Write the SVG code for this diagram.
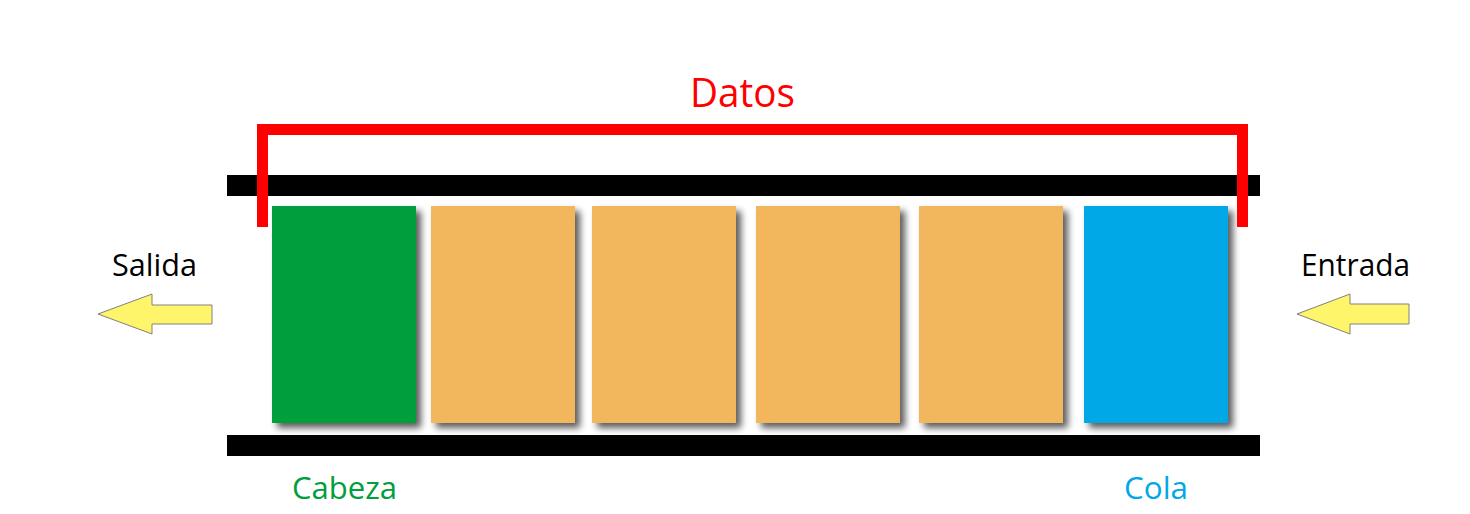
<svg xmlns="http://www.w3.org/2000/svg" width="1470" height="514" viewBox="0 0 1470 514">
<defs>
<filter id="sh" x="-10%" y="-10%" width="130%" height="130%">
<feGaussianBlur in="SourceAlpha" stdDeviation="3.5"/>
<feOffset dx="5" dy="5" result="b"/>
<feComponentTransfer><feFuncA type="linear" slope="0.65"/></feComponentTransfer>
<feMerge><feMergeNode/><feMergeNode in="SourceGraphic"/></feMerge>
</filter>
</defs>
<style>
text{font-family:"Open Sans","Noto Sans","Liberation Sans",sans-serif;text-anchor:middle}
.lbl{font-size:31px;fill:#000}
.bar{fill:#000}
.box{filter:url(#sh)}
.arrow{fill:#FFF56A;stroke:#808080;stroke-width:1}
</style>
<rect width="1470" height="514" fill="#fff"/>
<g id="rails">
<rect class="bar" x="227" y="175" width="1033" height="21"/>
<rect class="bar" x="227" y="435" width="1033" height="21"/>
</g>
<g id="node-cabeza"><rect class="box" x="272" y="206" width="144" height="217" fill="#009E3D"/></g>
<g id="node-2"><rect class="box" x="431" y="206" width="144" height="217" fill="#F2B75B"/></g>
<g id="node-3"><rect class="box" x="592" y="206" width="144" height="217" fill="#F2B75B"/></g>
<g id="node-4"><rect class="box" x="756" y="206" width="144" height="217" fill="#F2B75B"/></g>
<g id="node-5"><rect class="box" x="919" y="206" width="144" height="217" fill="#F2B75B"/></g>
<g id="node-cola"><rect class="box" x="1084" y="206" width="144" height="217" fill="#00A8E8"/></g>
<g id="bracket">
<path d="M262.5 227 V129.5 H1242.5 V227" fill="none" stroke="#FF0000" stroke-width="11"/>
<text x="742.5" y="107" font-size="40" fill="#FF0000" textLength="105" lengthAdjust="spacingAndGlyphs">Datos</text>
</g>
<g id="connectors">
<polygon class="arrow" points="98,314 152,294 152,305 212,305 212,324 152,324 152,334"/>
<polygon class="arrow" points="1297,314 1350,294 1350,304 1409,304 1409,324 1350,324 1350,334"/>
</g>
<g id="labels">
<text class="lbl" x="154.5" y="276" textLength="85" lengthAdjust="spacingAndGlyphs">Salida</text>
<text class="lbl" x="1355.5" y="276" textLength="109" lengthAdjust="spacingAndGlyphs">Entrada</text>
<text class="lbl" x="344.5" y="499" textLength="105" lengthAdjust="spacingAndGlyphs" style="fill:#009E3D">Cabeza</text>
<text class="lbl" x="1156" y="499" textLength="64" lengthAdjust="spacingAndGlyphs" style="fill:#00A8E8">Cola</text>
</g>
</svg>
